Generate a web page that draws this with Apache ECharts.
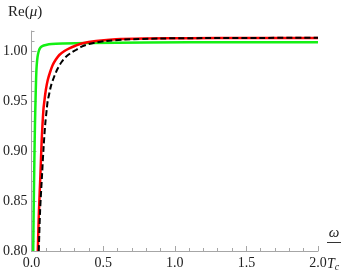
<!DOCTYPE html>
<html>
<head>
<meta charset="utf-8">
<script src="https://cdn.jsdelivr.net/npm/echarts@6/dist/echarts.min.js"></script>
<style>html,body{margin:0;padding:0;background:#fff}#c{width:346px;height:277px}</style>
</head>
<body>
<div id="c"></div>
<script>
// ---- data ----
var xMajorTicks = [0, 0.5, 1.0, 1.5, 2.0];
var xMinorTicks = [0.1,0.2,0.3,0.4,0.6,0.7,0.8,0.9,1.1,1.2,1.3,1.4,1.6,1.7,1.8,1.9];
var yMajorTicks = [0.80, 0.85, 0.90, 0.95, 1.00];
var yMinorTicks = [0.81,0.82,0.83,0.84,0.86,0.87,0.88,0.89,0.91,0.92,0.93,0.94,0.96,0.97,0.98,0.99,1.01,1.02];

var greenOmega = [0.012,0.016,0.020,0.024,0.028,0.032,0.036,0.042,0.050,0.060,0.075,0.10,0.14,0.22,0.4,0.8,1.4,2.0];
var greenRe    = [0.80,0.85,0.89,0.925,0.95,0.972,0.985,0.994,0.9995,1.003,1.0048,1.006,1.007,1.0075,1.008,1.0085,1.0087,1.0088];

var redOmega = [0.044,0.052,0.0625,0.071,0.083,0.09,0.10,0.113,0.13,0.148,0.17,0.194,0.23,0.264,0.31,0.356,0.45,0.59,0.8,1.1,1.5,2.0];
var redRe    = [0.80,0.84,0.877,0.91,0.941,0.95,0.961,0.9707,0.979,0.986,0.9915,0.996,1.0000,1.0027,1.0055,1.0078,1.0100,1.0118,1.0125,1.0128,1.0130,1.0131];

var blackOmega = [0.051,0.060,0.074,0.085,0.096,0.106,0.113,0.125,0.137,0.16,0.183,0.21,0.241,0.275,0.31,0.35,0.40,0.46,0.52,0.65,0.9,1.2,1.6,2.0];
var blackRe    = [0.80,0.84,0.877,0.905,0.927,0.941,0.95,0.958,0.9656,0.975,0.9825,0.989,0.9943,0.998,1.001,1.0043,1.007,1.0088,1.010,1.0115,1.0125,1.0129,1.0131,1.0132];

function zip(a, b) { return a.map(function (v, i) { return [v, b[i]]; }); }

var FONT = '"Liberation Serif", "DejaVu Serif", serif';
var axisColor = '#a6a6a6';
var labelColor = '#222';

var chart = echarts.init(document.getElementById('c'), null, {renderer: 'canvas'});
chart.setOption({
  animation: false,
  textStyle: {fontFamily: FONT},
  grid: {left: 30, right: 28, top: 31, bottom: 26, containLabel: false},
  xAxis: [
    {
      type: 'value', min: 0, max: 2, position: 'bottom', offset: 0,
      axisLine: {show: true, lineStyle: {color: axisColor, width: 1}},
      axisTick: {show: true, inside: true, length: 5, customValues: xMajorTicks, lineStyle: {color: axisColor}},
      axisLabel: {show: true, customValues: xMajorTicks, margin: 5, fontFamily: FONT, fontSize: 14, color: labelColor,
        formatter: function (v) { return v.toFixed(1); }},
      splitLine: {show: false}
    },
    {
      type: 'value', min: 0, max: 2, position: 'bottom', offset: 0,
      axisLine: {show: false},
      axisTick: {show: true, inside: true, length: 3, customValues: xMinorTicks, lineStyle: {color: axisColor}},
      axisLabel: {show: false},
      splitLine: {show: false}
    }
  ],
  yAxis: [
    {
      type: 'value', min: 0.8, max: 1.02, position: 'left', offset: 0,
      axisLine: {show: true, lineStyle: {color: axisColor, width: 1}},
      axisTick: {show: true, inside: true, length: 5, customValues: yMajorTicks, lineStyle: {color: axisColor}},
      axisLabel: {show: true, customValues: yMajorTicks, margin: 4, fontFamily: FONT, fontSize: 14, color: labelColor,
        formatter: function (v) { return v.toFixed(2); }},
      splitLine: {show: false}
    },
    {
      type: 'value', min: 0.8, max: 1.02, position: 'left', offset: 0,
      axisLine: {show: false},
      axisTick: {show: true, inside: true, length: 3, customValues: yMinorTicks, lineStyle: {color: axisColor}},
      axisLabel: {show: false},
      splitLine: {show: false}
    }
  ],
  series: [
    {type: 'line', data: zip(greenOmega, greenRe), showSymbol: false, smooth: 0.3, z: 2,
     lineStyle: {color: '#14f014', width: 2.5}},
    {type: 'line', data: zip(redOmega, redRe), showSymbol: false, smooth: 0.3, z: 3,
     lineStyle: {color: '#ff0000', width: 2.5}},
    {type: 'line', data: zip(blackOmega, blackRe), showSymbol: false, smooth: 0.3, z: 4,
     lineStyle: {color: '#000', width: 2, type: [6, 3]}}
  ],
  graphic: [
    {type: 'text', left: 8, top: 5, style: {
      text: '{a|Re(}{b|μ}{a|)}',
      rich: {
        a: {fontFamily: FONT, fontSize: 15, fill: labelColor},
        b: {fontFamily: FONT, fontSize: 15, fontStyle: 'italic', fill: labelColor}
      }}},
    {type: 'text', x: 334, y: 233, style: {text: 'ω', fontFamily: FONT, fontSize: 15, fontStyle: 'italic',
      fill: labelColor, align: 'center', verticalAlign: 'middle'}},
    {type: 'line', shape: {x1: 327, y1: 242.5, x2: 341, y2: 242.5}, style: {stroke: '#333', lineWidth: 1}},
    {type: 'text', x: 327, y: 264, style: {
      text: '{t|T}{s|c}', verticalAlign: 'middle', align: 'left',
      rich: {
        t: {fontFamily: FONT, fontSize: 14, fontStyle: 'italic', fill: labelColor},
        s: {fontFamily: FONT, fontSize: 10, fontStyle: 'italic', fill: labelColor, verticalAlign: 'bottom', padding: [6, 0, 0, 0]}
      }}}
  ]
});
</script>
</body>
</html>
